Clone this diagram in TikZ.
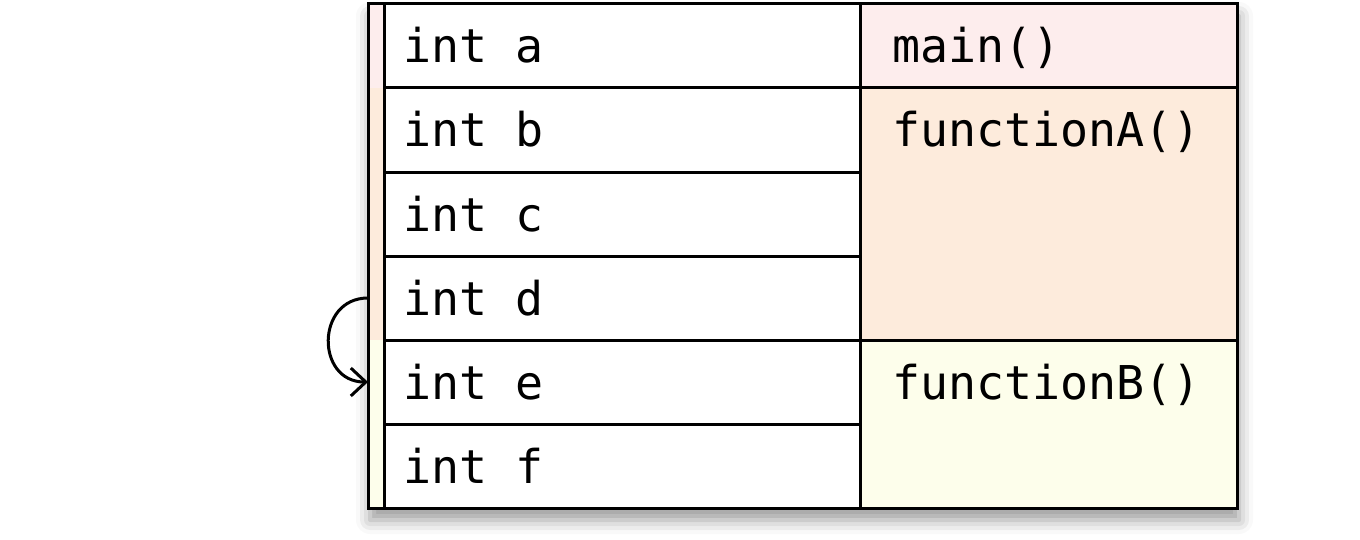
\documentclass[tikz,border=0pt]{standalone}
\usepackage{fontspec}
\setmainfont{DejaVu Sans Mono}
\usetikzlibrary{positioning, shadows.blur, arrows.meta}
\definecolor{mainpink}{HTML}{FDEDED}
\definecolor{funcapeach}{HTML}{FDEBDC}
\definecolor{funcbyellow}{HTML}{FDFEEB}
\newcommand{\intvar}[1]{int\hspace{0.602em}#1}

\begin{document}
\begin{tikzpicture}[x=0.5pt, y=-0.5pt,
    varcell/.style={draw, line width=1.5pt, fill=white, minimum height=42pt,
        text width=219pt, inner xsep=9.5pt, inner ysep=0pt, outer sep=0pt,
        text height=17pt, text depth=0pt,
        font=\fontsize{23.3}{28}\selectfont},
    fnlabel/.style={inner sep=0pt, outer sep=0pt, text height=17pt, text depth=0pt,
        font=\fontsize{23.3}{28}\selectfont},
    frameline/.style={line width=1.5pt}]
    \useasboundingbox (0,0) rectangle (1360,540);

    % Stack with its shadow
    \coordinate (topleft) at (368,4);
    \coordinate (botright) at (1237,508);
    \fill[white, blur shadow={shadow xshift=1pt, shadow yshift=-6pt,
        shadow blur radius=7pt, shadow opacity=40}] (topleft) rectangle (botright);

    % Frame colours
    \fill[mainpink] (368,4) rectangle (1237,88);
    \fill[funcapeach] (368,88) rectangle (1237,340);
    \fill[funcbyellow] (368,340) rectangle (1237,508);

    % Variables
    \node[varcell] (inta) at (622,46) {\intvar{a}};
    \node[varcell, below=0pt of inta] (intb) {\intvar{b}};
    \node[varcell, below=0pt of intb] (intc) {\intvar{c}};
    \node[varcell, below=0pt of intc] (intd) {\intvar{d}};
    \node[varcell, below=0pt of intd] (inte) {\intvar{e}};
    \node[varcell, below=0pt of inte] (intf) {\intvar{f}};

    % Function names
    \node[fnlabel, right=16pt of inta] (mainfn) {main()};
    \node[fnlabel, right=16pt of intb] (funca) {functionA()};
    \node[fnlabel, right=16pt of inte] (funcb) {functionB()};

    % Frame borders
    \draw[frameline] (topleft) rectangle (botright);
    \draw[frameline] (intb.north east) -- (intb.north east -| botright);
    \draw[frameline] (inte.north east) -- (inte.north east -| botright);

    % Call arrow
    \coordinate (callfrom) at ([xshift=-8pt]intd.west);
    \coordinate (callto) at ([xshift=-8pt]inte.west);
    \draw[line width=1.5pt, -{Straight Barb[length=7.5pt, width=14pt]}]
        (callfrom) to[out=180, in=180, looseness=1.6] (callto);
\end{tikzpicture}
\end{document}
